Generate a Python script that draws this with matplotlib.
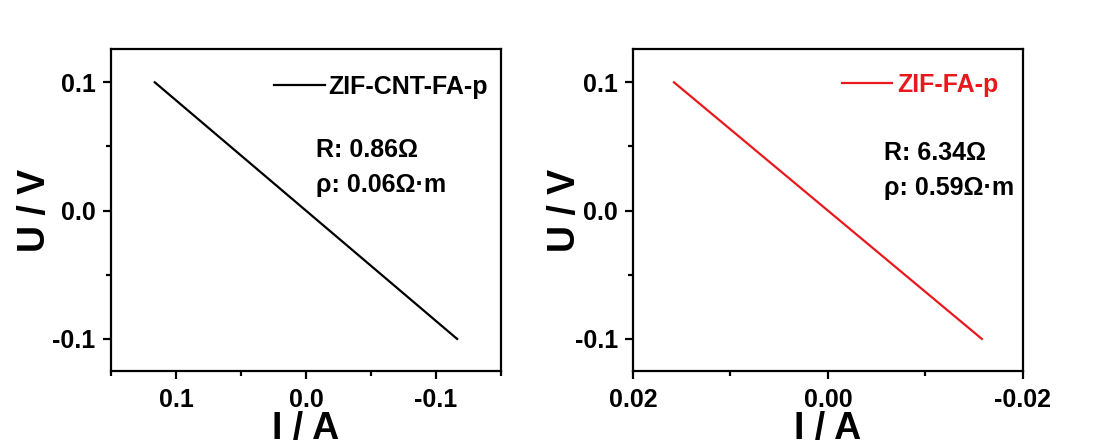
import numpy as np
import matplotlib.pyplot as plt
from matplotlib.ticker import MultipleLocator

plt.rcParams['font.family'] = ['Liberation Sans', 'DejaVu Sans']
plt.rcParams['font.weight'] = 'bold'

# I-V data for the two films
voltage = [0.1, -0.1]
current_cnt = [0.1163, -0.1163]
current_zif = [0.0158, -0.0158]

labels = ['ZIF-CNT-FA-p', 'ZIF-FA-p']
resist = ['R: 0.86\u03a9', 'R: 6.34\u03a9']
rho = ['\u03c1: 0.06\u03a9\u00b7m', '\u03c1: 0.59\u03a9\u00b7m']
colors = ['black', '#e8181c']

fs = 18

fig = plt.figure(figsize=(11, 4.43), dpi=100)
ax1 = fig.add_axes([0.1009, 0.1625, 0.3545, 0.727])
ax2 = fig.add_axes([0.5755, 0.1625, 0.3543, 0.727])

ax1.plot(current_cnt, voltage, color=colors[0], lw=1.6, label=labels[0])
ax2.plot(current_zif, voltage, color=colors[1], lw=1.6, label=labels[1])

ax1.set_xlim(0.15, -0.15)
ax1.xaxis.set_major_locator(MultipleLocator(0.1))
ax1.xaxis.set_minor_locator(MultipleLocator(0.05))
ax2.set_xlim(0.02, -0.02)
ax2.xaxis.set_major_locator(MultipleLocator(0.02))
ax2.xaxis.set_minor_locator(MultipleLocator(0.01))
ax1.xaxis.set_major_formatter(plt.FuncFormatter(lambda v, p: f'{v:.1f}'))
ax2.xaxis.set_major_formatter(plt.FuncFormatter(lambda v, p: f'{v:.2f}'))

for ax in (ax1, ax2):
    ax.set_ylim(-0.125, 0.126)
    ax.yaxis.set_major_locator(MultipleLocator(0.1))
    ax.yaxis.set_minor_locator(MultipleLocator(0.05))
    ax.yaxis.set_major_formatter(plt.FuncFormatter(lambda v, p: f'{v:.1f}'))
    for s in ax.spines.values():
        s.set_linewidth(1.6)
    ax.tick_params(axis='both', which='major', direction='out', length=6,
                   width=1.6, labelsize=fs)
    ax.tick_params(axis='both', which='minor', direction='out', length=3.5,
                   width=1.6)
    ax.tick_params(axis='x', pad=6)
    ax.tick_params(axis='y', pad=5)
    ax.set_xlabel('I / A', fontsize=27, fontweight='bold')
    ax.set_ylabel('U / V', fontsize=27, fontweight='bold')

ax1.xaxis.set_label_coords(0.5, -0.125)
ax2.xaxis.set_label_coords(0.5, -0.125)
ax1.yaxis.set_label_coords(-0.149, 0.5)
ax2.yaxis.set_label_coords(-0.128, 0.5)

ax1.legend(loc='center right', bbox_to_anchor=(0.965, 0.882), frameon=False,
           borderaxespad=0, borderpad=0, handlelength=2.05, handletextpad=0.12,
           prop={'size': fs, 'weight': 'bold'}, labelcolor=colors[0])
ax2.legend(loc='center right', bbox_to_anchor=(0.937, 0.888), frameon=False,
           borderaxespad=0, borderpad=0, handlelength=2.0, handletextpad=0.2,
           prop={'size': fs, 'weight': 'bold'}, labelcolor=colors[1])

ax1.text(0.526, 0.686, resist[0], transform=ax1.transAxes, fontsize=fs,
         fontweight='bold', va='center')
ax1.text(0.526, 0.578, rho[0], transform=ax1.transAxes, fontsize=fs,
         fontweight='bold', va='center')
ax2.text(0.644, 0.677, resist[1], transform=ax2.transAxes, fontsize=fs,
         fontweight='bold', va='center')
ax2.text(0.644, 0.568, rho[1], transform=ax2.transAxes, fontsize=fs,
         fontweight='bold', va='center')

fig.savefig('out.png', dpi=100)
